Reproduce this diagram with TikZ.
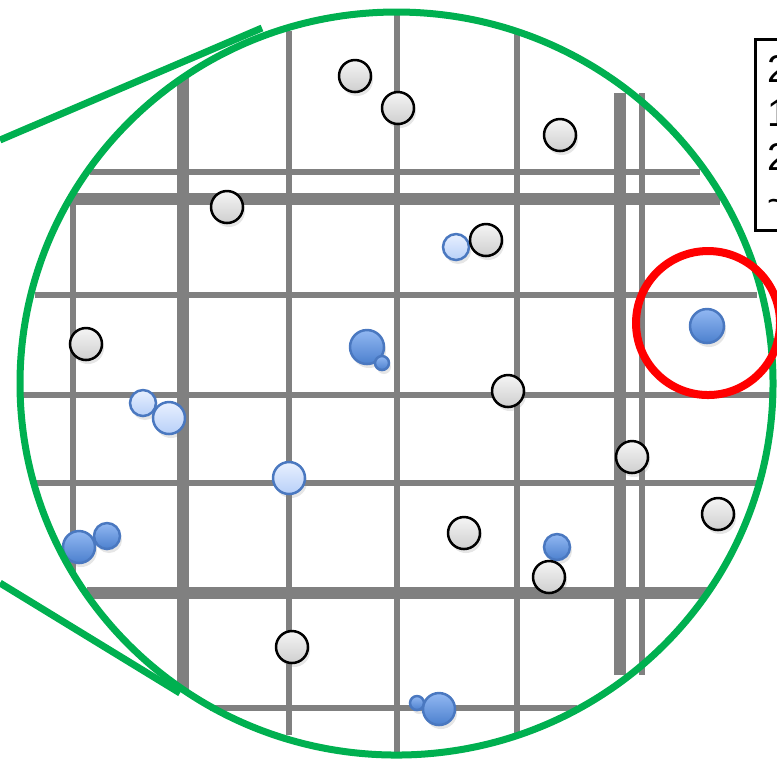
\documentclass[tikz,border=0pt]{standalone}
\usepackage{fontspec}
\setmainfont{Liberation Sans}
\usepackage{tikz}
\usetikzlibrary{shadows}
\definecolor{lensgreen}{RGB}{0,176,80}
\definecolor{rulegrey}{RGB}{128,128,128}
\definecolor{rimblue}{RGB}{74,120,192}
\definecolor{deepblue}{RGB}{76,128,206}
\definecolor{skyblue}{RGB}{146,184,242}
\definecolor{paletop}{RGB}{232,240,255}
\definecolor{palebot}{RGB}{184,208,248}
\tikzstyle{thinrule} = [draw=rulegrey, line width=0.6mm]
\tikzstyle{thickrule} = [draw=rulegrey, line width=1.15mm]
\tikzstyle{dot} = [circle, inner sep=0pt, minimum size=3.2mm, line width=0.25mm,
    drop shadow={opacity=0.2, shadow xshift=0.2mm, shadow yshift=-0.4mm}]
\tikzstyle{greydot} = [dot, draw=black, top color=gray!8, bottom color=gray!38]
\tikzstyle{bluedot} = [dot, draw=rimblue, top color=skyblue, bottom color=deepblue]
\tikzstyle{paledot} = [dot, draw=rimblue, top color=paletop, bottom color=palebot]
\tikzstyle{lens} = [draw=lensgreen, line width=0.7mm]

\begin{document}
\begin{tikzpicture}[x=0.1mm, y=-0.1mm]
  \useasboundingbox (0,0) rectangle (777,760);

  % grid of the sample
  \draw[thinrule] (73,200) -- (73,573);
  \draw[thinrule] (289,31) -- (289,735);
  \draw[thinrule] (397,12) -- (397,752);
  \draw[thinrule] (517,33) -- (517,733);
  \draw[thinrule] (642,93) -- (642,675);
  \draw[thickrule] (183,77) -- (183,690);
  \draw[thickrule] (620,93) -- (620,675);
  \draw[thinrule] (90,172) -- (700,172);
  \draw[thinrule] (35,295) -- (757,295);
  \draw[thinrule] (23,395) -- (770,395);
  \draw[thinrule] (35,483) -- (757,483);
  \draw[thinrule] (210,708) -- (577,708);
  \draw[thickrule] (72,199) -- (720,199);
  \draw[thickrule] (87,593) -- (707,593);

  % particles
  \node[paledot, minimum size=2.6mm] (p1) at (456,247) {};
  \node[greydot] (g1) at (355,76) {};
  \node[greydot] (g2) at (398,108) {};
  \node[greydot] (g3) at (560,135) {};
  \node[greydot] (g4) at (227,207) {};
  \node[greydot] (g5) at (486,240) {};
  \node[greydot] (g6) at (86,344) {};
  \node[greydot] (g7) at (508,391) {};
  \node[greydot] (g8) at (632,457) {};
  \node[greydot] (g9) at (718,514) {};
  \node[greydot] (g10) at (464,533) {};
  \node[greydot] (g11) at (292,647) {};
  \node[paledot, minimum size=2.6mm] (p2) at (143,403) {};
  \node[paledot] (p3) at (169,418) {};
  \node[paledot] (p4) at (289,478) {};
  \node[bluedot, minimum size=3.4mm] (b1) at (367,347) {};
  \node[bluedot, minimum size=1.4mm] (b1s) at (382,363) {};
  \node[bluedot, minimum size=3.4mm] (b2) at (707,326) {};
  \node[bluedot, minimum size=2.6mm] (b3s) at (107,536) {};
  \node[bluedot] (b3) at (79,547) {};
  \node[bluedot, minimum size=2.6mm] (b4) at (557,547) {};
  \node[greydot] (g12) at (549,577) {};
  \node[bluedot, minimum size=1.4mm] (b5s) at (417,703) {};
  \node[bluedot] (b5) at (439,709) {};

  % magnifier
  \draw[lens] (396.5,383.5) ellipse [x radius=376.5, y radius=371.5];
  \coordinate (lensup) at (262,28);
  \coordinate (lenslow) at (180,693);
  \draw[lens] (0,140) -- (lensup);
  \draw[lens] (0,583) -- (lenslow);
  \node[draw=red, circle, line width=0.8mm, minimum size=14.4mm] (focus) at (708,323) {};

  \node[draw, line width=0.3mm, anchor=north west, inner xsep=1.15mm,
    inner ysep=1.6mm, text width=10mm, align=left,
    font=\fontsize{11}{12.5}\selectfont] (key) at (754,38)
    {2\\1\\2\\\textasciitilde};
\end{tikzpicture}
\end{document}
